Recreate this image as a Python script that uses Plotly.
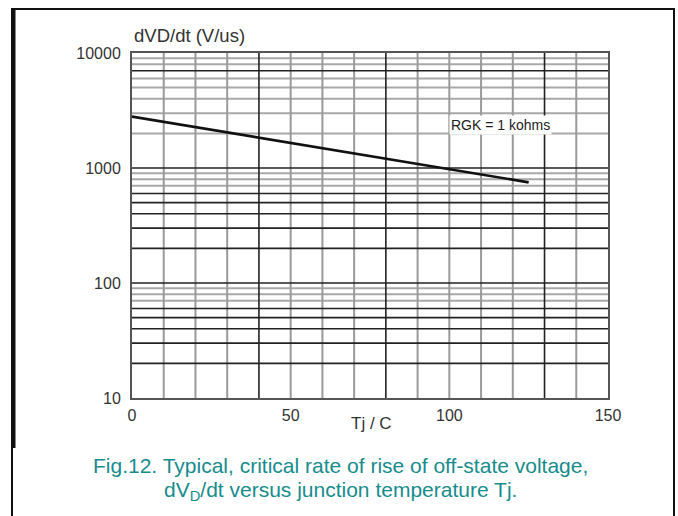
import numpy as np
import plotly.graph_objects as go

# Critical dV/dt vs junction temperature (RGK = 1 kohm)
tj = [0, 25, 50, 75, 100, 125]
dvdt = [2800, 2150, 1650, 1270, 975, 750]

# Axis ticks
x_ticks = [0, 50, 100, 150]
y_ticks = [10, 100, 1000, 10000]
y_tick_text = ["10", "100", "1000", "10000"]

# Chart-paper grid
x_grid_light = [10, 20, 30, 50, 60, 70, 90, 100, 110, 120, 140]
x_grid_dark = [40, 80, 130]
y_grid_light = [70, 80, 90, 700, 800, 900, 2000, 3000, 4000, 5000, 6000, 8000, 9000]
y_grid_dark = [20, 30, 40, 50, 60, 100, 200, 300, 400, 500, 600, 1000, 7000]

X_MIN, X_MAX = 0, 150
Y_MIN, Y_MAX = 10, 10000

fig = go.Figure()


def hlines(values, color, width):
    xs, ys = [], []
    for v in values:
        xs += [X_MIN, X_MAX, None]
        ys += [v, v, None]
    fig.add_trace(go.Scatter(x=xs, y=ys, mode="lines", hoverinfo="skip",
                             line=dict(color=color, width=width), showlegend=False))


def vlines(values, color, width):
    xs, ys = [], []
    for v in values:
        xs += [v, v, None]
        ys += [Y_MIN, Y_MAX, None]
    fig.add_trace(go.Scatter(x=xs, y=ys, mode="lines", hoverinfo="skip",
                             line=dict(color=color, width=width), showlegend=False))


hlines(y_grid_light, "#a8a8a8", 2)
vlines(x_grid_light, "#9a9a9a", 2)
hlines(y_grid_dark, "#222222", 1.6)
vlines(x_grid_dark, "#222222", 1.6)

fig.add_trace(go.Scatter(x=tj, y=dvdt, mode="lines",
                         line=dict(color="#111111", width=2.6), showlegend=False))

FONT = "Liberation Sans, Arial"

fig.update_xaxes(range=[X_MIN, X_MAX], tickvals=x_ticks, showgrid=False, zeroline=False,
                 showline=True, mirror=True, linecolor="#555555", linewidth=2,
                 tickfont=dict(family=FONT, size=16, color="#333333"),
                 ticks="", ticklabelstandoff=2)
fig.update_yaxes(type="log", range=[1, 4], tickvals=y_ticks, ticktext=y_tick_text,
                 showgrid=False, zeroline=False,
                 showline=True, mirror=True, linecolor="#555555", linewidth=2,
                 tickfont=dict(family=FONT, size=16, color="#333333"),
                 ticks="", ticklabelstandoff=6)

PW, PH = 476, 345
L, T = 132, 53


def px(xp):
    return (xp - L) / PW


def py(yp):
    return (T + PH - yp) / PH


annotations = [
    dict(text="dVD/dt (V/us)", xref="paper", yref="paper", x=px(132), y=py(35),
         xanchor="left", yanchor="middle", showarrow=False,
         font=dict(family=FONT, size=18.5, color="#333333")),
    dict(text="Tj / C", xref="paper", yref="paper", x=px(371), y=py(423),
         xanchor="center", yanchor="middle", showarrow=False,
         font=dict(family=FONT, size=17, color="#333333")),
    dict(text="RGK = 1 kohms", xref="x", yref="y", x=100, y=np.log10(2365),
         xanchor="left", yanchor="middle", showarrow=False, bgcolor="white",
         font=dict(family=FONT, size=14, color="#222222")),
    dict(text="Fig.12. Typical, critical rate of rise of off-state voltage,",
         xref="paper", yref="paper", x=px(340), y=py(465),
         xanchor="center", yanchor="middle", showarrow=False,
         font=dict(family=FONT, size=21, color="#178c8c")),
    dict(text="dV<sub>D</sub>/dt versus junction temperature Tj.",
         xref="paper", yref="paper", x=px(340), y=py(491),
         xanchor="center", yanchor="middle", showarrow=False,
         font=dict(family=FONT, size=21, color="#178c8c")),
]

shapes = [
    dict(type="rect", xref="paper", yref="paper", x0=px(12), x1=px(674), y0=py(9), y1=py(517),
         line=dict(color="#111111", width=2)),
    dict(type="line", xref="paper", yref="paper", x0=px(14), x1=px(14), y0=py(9), y1=py(448),
         line=dict(color="#111111", width=3)),
]

fig.update_layout(
    width=678, height=516,
    margin=dict(l=L, r=678 - L - PW, t=T, b=516 - T - PH),
    paper_bgcolor="white", plot_bgcolor="white",
    annotations=annotations, shapes=shapes,
)

fig.write_html("out.html")
